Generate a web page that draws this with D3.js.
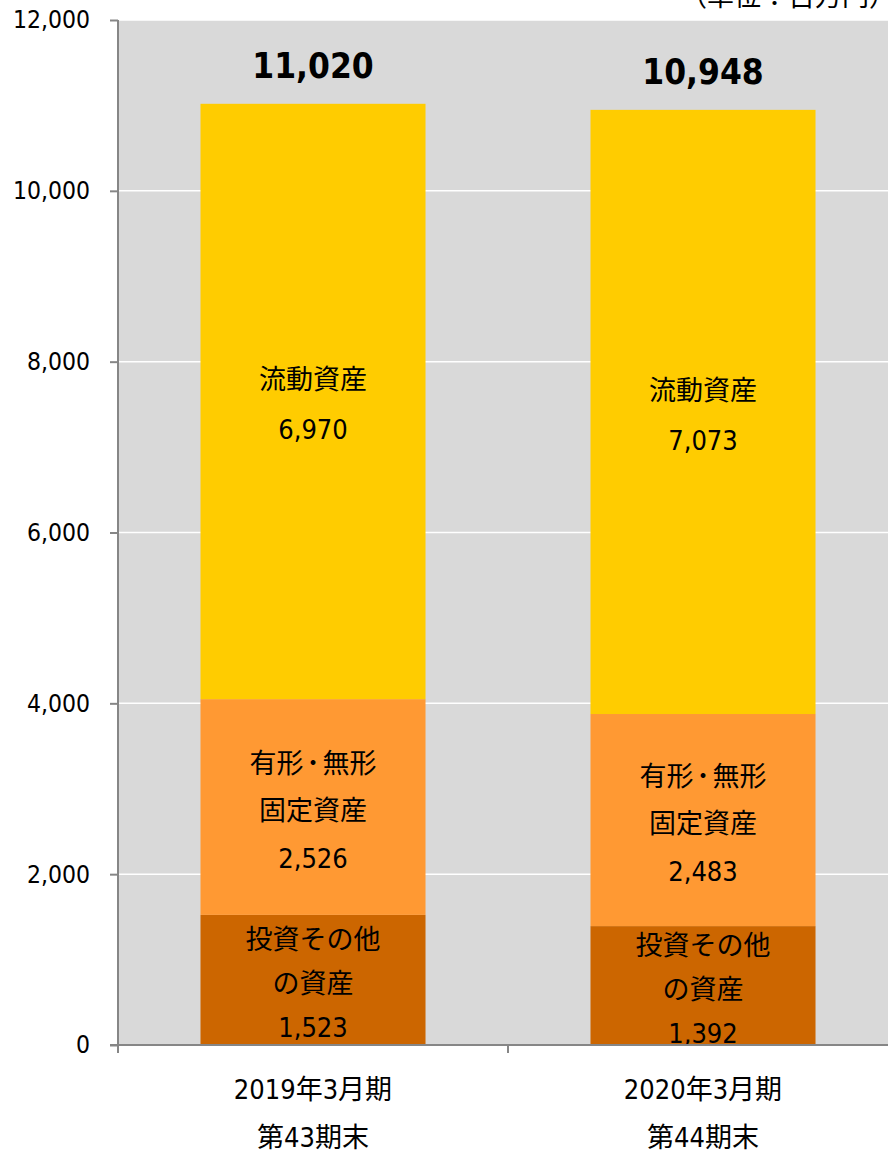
<!DOCTYPE html>
<html>
<head>
<meta charset="utf-8">
<script src="https://cdn.jsdelivr.net/npm/d3@7"></script>
<style>
  html, body { margin: 0; padding: 0; background: #ffffff; }
  svg { display: block; }
  text { font-family: "DejaVu Sans Condensed", "DejaVu Sans", "Noto Sans CJK JP", sans-serif; font-stretch: condensed; fill: #000; }
</style>
</head>
<body>
<svg id="chart" width="888" height="1154"></svg>
<script>
// ---- data ----
const categories = ["2019年3月期", "2020年3月期"];
const categorySub = ["第43期末", "第44期末"];
const seriesKeys = ["investments", "fixed", "current"];
const seriesLabels = [["投資その他", "の資産"], ["有形・無形", "固定資産"], ["流動資産"]];
const investments = [1523, 1392];
const fixedAssets = [2526, 2483];
const currentAssets = [6970, 7073];
const totals = [11020, 10948];
const yTicks = [0, 2000, 4000, 6000, 8000, 10000, 12000];
const unitLabel = "（単位：百万円）";

const colors = { investments: "#CC6600", fixed: "#FF9933", current: "#FFCC00" };
const lineGap = { investments: 44, fixed: 47.5, current: 50 };

const rows = categories.map((c, i) => ({
  cat: c, investments: investments[i], fixed: fixedAssets[i], current: currentAssets[i], total: totals[i]
}));

const svg = d3.select("#chart");
const plot = { left: 118, right: 898, top: 20, bottom: 1045 };

const x = d3.scaleBand().domain(categories).range([plot.left, plot.right])
  .paddingInner(0.423).paddingOuter(0.2115);
const y = d3.scaleLinear().domain([0, 12000]).range([plot.bottom, plot.top]);

// plot background
svg.append("rect").attr("x", plot.left).attr("y", plot.top)
  .attr("width", plot.right - plot.left).attr("height", plot.bottom - plot.top)
  .attr("fill", "#D9D9D9");

// gridlines
svg.append("g").selectAll("line").data(yTicks.filter(d => d > 0)).join("line")
  .attr("x1", plot.left).attr("x2", plot.right)
  .attr("y1", d => y(d)).attr("y2", d => y(d))
  .attr("stroke", "#ffffff").attr("stroke-width", 1.5);

// stacked bars
const stack = d3.stack().keys(seriesKeys)(rows);
const gBars = svg.append("g");
stack.forEach((layer, li) => {
  const key = seriesKeys[li];
  gBars.append("g").selectAll("rect").data(layer).join("rect")
    .attr("x", d => x(d.data.cat))
    .attr("width", x.bandwidth())
    .attr("y", d => y(d[1]))
    .attr("height", d => y(d[0]) - y(d[1]))
    .attr("fill", colors[key]);
});

// helper: write text, with a narrower middle dot (smaller tspan, no overlap)
function writeText(sel, t) {
  if (t.includes("・")) {
    const parts = t.split("・");
    parts.forEach((p, k) => {
      if (k > 0) sel.append("tspan").attr("font-size", 19).attr("font-weight", "bold").text("・");
      sel.append("tspan").text(p);
    });
  } else {
    sel.text(t);
  }
}

// segment labels
const fmt = d3.format(",");
stack.forEach((layer, li) => {
  const key = seriesKeys[li];
  layer.forEach(d => {
    const lines = seriesLabels[li].concat([fmt(d.data[key])]);
    const cx = x(d.data.cat) + x.bandwidth() / 2;
    const cy = (y(d[0]) + y(d[1])) / 2 + 3.5;
    const gap = lineGap[key];
    const start = cy - gap * (lines.length - 1) / 2;
    lines.forEach((t, k) => {
      const tx = svg.append("text")
        .attr("x", cx).attr("y", start + k * gap)
        .attr("text-anchor", "middle").attr("dominant-baseline", "central")
        .attr("font-size", 27);
      writeText(tx, t);
    });
  });
});

// totals
svg.append("g").selectAll("text").data(stack[stack.length - 1]).join("text")
  .attr("x", d => x(d.data.cat) + x.bandwidth() / 2)
  .attr("y", d => y(d[1]) - 25.5)
  .attr("text-anchor", "middle").attr("font-weight", "bold").attr("font-size", 35)
  .text(d => fmt(d.data.total));

// y axis
const yAxis = svg.append("g").attr("transform", `translate(${plot.left},0)`)
  .call(d3.axisLeft(y).tickValues(yTicks).tickFormat(fmt).tickSize(8).tickPadding(20));
yAxis.attr("font-family", null);
yAxis.select(".domain").attr("stroke", "#868686").attr("stroke-width", 2)
  .attr("d", `M0,${plot.top}V${plot.bottom + 8}`);
yAxis.selectAll(".tick line").attr("stroke", "#868686").attr("stroke-width", 2);
yAxis.selectAll(".tick text").attr("font-size", 24.5).attr("fill", "#000");

// x axis
const xAxisG = svg.append("g");
xAxisG.append("line").attr("x1", plot.left - 8).attr("x2", plot.right)
  .attr("y1", plot.bottom).attr("y2", plot.bottom)
  .attr("stroke", "#868686").attr("stroke-width", 2);
const boundaries = categories.map(c => x(c) - x.step() * x.paddingInner() / 2)
  .concat([x(categories[categories.length - 1]) + x.bandwidth() + x.step() * x.paddingInner() / 2]);
xAxisG.selectAll("line.tk").data(boundaries).join("line").attr("class", "tk")
  .attr("x1", d => d).attr("x2", d => d)
  .attr("y1", plot.bottom).attr("y2", plot.bottom + 8)
  .attr("stroke", "#868686").attr("stroke-width", 2);
xAxisG.selectAll("text.c1").data(categories).join("text").attr("class", "c1")
  .attr("x", d => x(d) + x.bandwidth() / 2).attr("y", 1099)
  .attr("text-anchor", "middle").attr("font-size", 27).text(d => d);
xAxisG.selectAll("text.c2").data(categorySub).join("text").attr("class", "c2")
  .attr("x", (d, i) => x(categories[i]) + x.bandwidth() / 2).attr("y", 1147)
  .attr("text-anchor", "middle").attr("font-size", 27).text(d => d);

// unit label
svg.append("text").attr("x", 896).attr("y", 6).attr("text-anchor", "end")
  .attr("font-size", 27).text(unitLabel);
</script>
</body>
</html>
